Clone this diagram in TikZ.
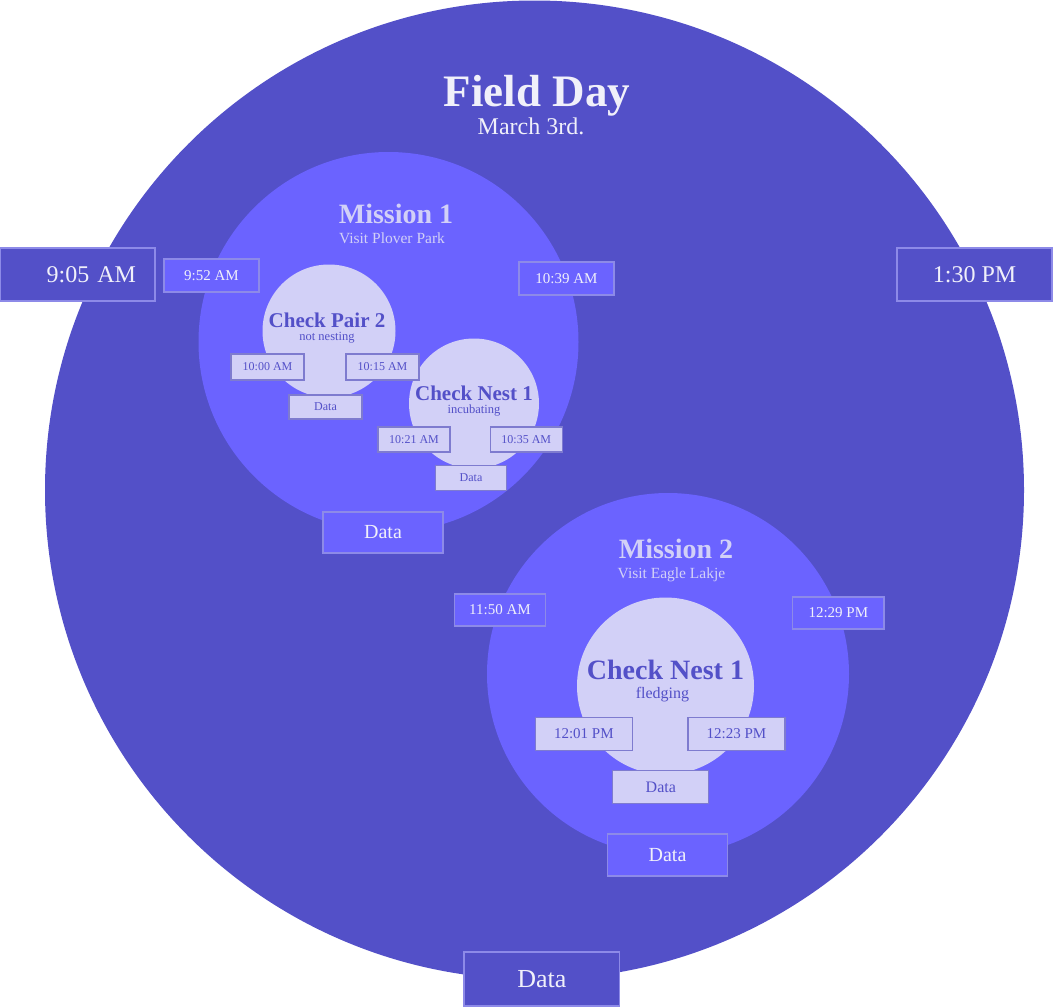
\documentclass[tikz,border=0pt]{standalone}
\usepackage{fontspec}
\setmainfont{Liberation Serif}
\usetikzlibrary{positioning}
\definecolor{dayblue}{HTML}{5350C8}
\definecolor{missionblue}{HTML}{6B63FF}
\definecolor{checklav}{HTML}{D2D0F7}
\definecolor{edgelight}{HTML}{8D8AE8}
\definecolor{edgedark}{HTML}{7E7BCF}
\definecolor{paletext}{HTML}{F0F0FA}

\begin{document}
\begin{tikzpicture}[
      x=1pt, y=-1pt,
      fs/.style={font=\fontsize{#1}{#1}\selectfont},
      fsb/.style={font=\fontsize{#1}{#1}\selectfont\bfseries},
      wh/.style 2 args={minimum width=#1pt, minimum height=#2pt},
      daybox/.style={draw=edgelight, fill=dayblue, text=paletext,
                     line width=1.2pt, inner sep=0pt},
      missionbox/.style={draw=edgelight, fill=missionblue, text=paletext,
                     line width=1.2pt, inner sep=0pt},
      checkbox/.style={draw=edgedark, fill=checklav, text=dayblue,
                     line width=1.2pt, inner sep=0pt},
      lbl/.style={anchor=base, inner sep=0pt}
  ]
      \useasboundingbox (0,0) rectangle (1053,1007);

      % Circles
      \fill[dayblue] (534.5,490) circle (489.5pt);
      \fill[missionblue] (388.5,342) circle (190pt);
      \fill[missionblue] (668,674) circle (181pt);
      \fill[checklav] (329,331) circle (66.5pt);
      \fill[checklav] (474,403.5) circle (65pt);
      \fill[checklav] (665.5,686) circle (88.5pt);

      % Titles
      \node[lbl, fsb=45, text=paletext] (daytitle) at (537,106) {Field Day};
      \node[lbl, fs=24, text=paletext] (daydate) at (531,134) {March 3rd.};
      \node[lbl, fsb=28, text=checklav] (m1title) at (396,223) {Mission 1};
      \node[lbl, fs=15.5, text=checklav] (m1sub) at (392,243) {Visit Plover Park};
      \node[lbl, fsb=28, text=checklav] (m2title) at (676,558) {Mission 2};
      \node[lbl, fs=15.5, text=checklav] (m2sub) at (671.5,578) {Visit Eagle Lakje};
      \node[lbl, fsb=21, text=dayblue] (pairtitle) at (327,327) {Check Pair 2};
      \node[lbl, fs=12.5, text=dayblue] (pairsub) at (327,340) {not nesting};
      \node[lbl, fsb=21, text=dayblue] (nestatitle) at (474,400) {Check Nest 1};
      \node[lbl, fs=12.5, text=dayblue] (nestasub) at (474,413) {incubating};
      \node[lbl, fsb=28, text=dayblue] (nestbtitle) at (665.5,679) {Check Nest 1};
      \node[lbl, fs=16, text=dayblue] (nestbsub) at (662.5,698) {fledging};

      % Field day
      \node[daybox, fs=24, text width=117pt, inner xsep=19pt, align=right,
            minimum height=53pt] (t905) at (77.5,274.5) {9:05 AM};
      \node[daybox, fs=24, wh={155}{53}] (t130) at (974.5,274.5) {1:30 PM};
      \node[daybox, fs=26, wh={155.5}{54}] (dday) at (541.8,979) {Data};

      % Mission 1
      \node[missionbox, fs=15, wh={95}{33}] (t952) at (211.5,275.5) {9:52 AM};
      \node[missionbox, fs=15, wh={95}{33}] (t1039) at (566.5,278.5) {10:39 AM};
      \node[missionbox, fs=20, wh={120}{41}] (dm1) at (383,532.5) {Data};

      \node[checkbox, fs=12, wh={73}{26}] (t1000) at (267.5,367) {10:00 AM};
      \node[checkbox, fs=12, wh={73}{26}] (t1015) at (382.5,367) {10:15 AM};
      \node[checkbox, fs=12, wh={73}{24}] (dpair) at (325.5,407) {Data};

      \node[checkbox, fs=12, wh={72}{25}] (t1021) at (414,439.5) {10:21 AM};
      \node[checkbox, fs=12, wh={72}{25}] (t1035) at (526.3,439.5) {10:35 AM};
      \node[checkbox, fs=12, wh={71}{25}] (dnesta) at (471,478) {Data};

      % Mission 2
      \node[missionbox, fs=15, wh={91.5}{32}] (t1150) at (500,610) {11:50 AM};
      \node[missionbox, fs=15, wh={91.5}{32}] (t1229) at (838.3,613) {12:29 PM};
      \node[missionbox, fs=20, wh={120}{42}] (dm2) at (667.5,855) {Data};

      \node[checkbox, fs=15, wh={97}{33.5}] (t1201) at (583.8,734) {12:01 PM};
      \node[checkbox, fs=15, wh={97}{33.5}] (t1223) at (736.5,734) {12:23 PM};
      \node[checkbox, fs=16, wh={96}{33.5}] (dnestb) at (660.8,787) {Data};
  \end{tikzpicture}
\end{document}
